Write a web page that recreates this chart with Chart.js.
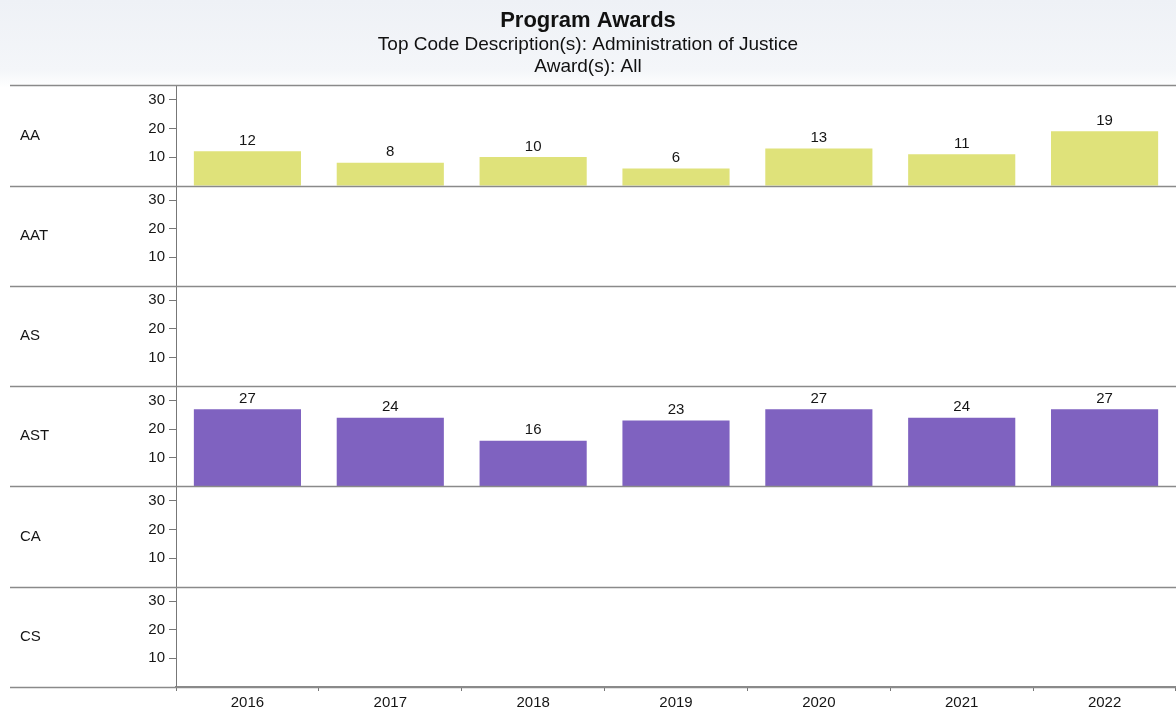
<!DOCTYPE html>
<html>
<head>
<meta charset="utf-8">
<title>Program Awards</title>
<script src="https://cdn.jsdelivr.net/npm/chart.js@4.4.1/dist/chart.umd.min.js"></script>
<style>
  html, body { margin: 0; padding: 0; }
  body {
    width: 1176px; height: 711px;
    background: linear-gradient(#eef1f6 0px, #f4f6f9 70px, #ffffff 88px);
    font-family: "Liberation Sans", Arial, sans-serif;
  }
  #wrap { position: relative; width: 1176px; height: 711px; }
</style>
</head>
<body>
<div id="wrap"><canvas id="awardsChart"></canvas></div>
<script>
// Años y tipos de título
const years = ['2016', '2017', '2018', '2019', '2020', '2021', '2022'];
const rowLabels = ['AA', 'AAT', 'AS', 'AST', 'CA', 'CS'];
const yTicks = [10, 20, 30];

// Títulos otorgados por año (filas vacías = sin datos)
const awardsAA = [12, 8, 10, 6, 13, 11, 19];
const awardsAAT = [null, null, null, null, null, null, null];
const awardsAS = [null, null, null, null, null, null, null];
const awardsAST = [27, 24, 16, 23, 27, 24, 27];
const awardsCA = [null, null, null, null, null, null, null];
const awardsCS = [null, null, null, null, null, null, null];

const rowData = [awardsAA, awardsAAT, awardsAS, awardsAST, awardsCA, awardsCS];
const rowColors = ['#dfe27a', '#dfe27a', '#dfe27a', '#7f62c0', '#7f62c0', '#7f62c0'];

const FONT = '"Liberation Sans", Arial, sans-serif';
const TEXT = '#151515';
const AXIS_LEFT = 176;

// Dibuja etiquetas de fila, separadores y valores sobre las barras
const trellisDecor = {
  id: 'trellisDecor',
  afterDraw(chart) {
    const ctx = chart.ctx;
    const area = chart.chartArea;
    ctx.save();

    ctx.strokeStyle = '#8a8a8a';
    ctx.lineWidth = 1.5;
    rowLabels.forEach((name, i) => {
      const s = chart.scales['y' + i];
      ctx.beginPath();
      ctx.moveTo(10, Math.round(s.bottom) + 0.5);
      ctx.lineTo(area.right, Math.round(s.bottom) + 0.5);
      if (i === 0) {
        ctx.moveTo(10, Math.round(s.top) + 0.5);
        ctx.lineTo(area.right, Math.round(s.top) + 0.5);
      }
      ctx.stroke();

      ctx.fillStyle = TEXT;
      ctx.font = '15px ' + FONT;
      ctx.textAlign = 'left';
      ctx.textBaseline = 'middle';
      ctx.fillText(name, 20, (s.top + s.bottom) / 2);
    });

    ctx.fillStyle = TEXT;
    ctx.font = '15px ' + FONT;
    ctx.textAlign = 'center';
    ctx.textBaseline = 'bottom';
    chart.data.datasets.forEach((ds, i) => {
      const meta = chart.getDatasetMeta(i);
      meta.data.forEach((bar, j) => {
        const v = ds.data[j];
        if (v == null) return;
        ctx.fillText(String(v), bar.x, bar.y - 3);
      });
    });
    ctx.restore();
  }
};

const scales = {
  x: {
    type: 'category',
    offset: true,
    border: { display: true, color: '#8a8a8a', width: 1.5 },
    grid: { display: true, offset: true, drawOnChartArea: false, tickLength: 4, color: '#777' },
    ticks: { color: TEXT, font: { family: FONT, size: 15 }, padding: 3 },
    afterFit(scale) { scale.height = 24; }
  }
};

// Los ejes apilados se colocan de abajo hacia arriba, así que se definen al revés
for (let i = rowLabels.length - 1; i >= 0; i--) {
  scales['y' + i] = {
    type: 'linear',
    position: 'left',
    stack: 'rows',
    stackWeight: 1,
    min: 0,
    max: 35,
    border: { display: true, color: '#777', width: 1 },
    grid: { drawOnChartArea: false, tickLength: 7, color: '#777' },
    ticks: { color: TEXT, font: { family: FONT, size: 15 }, padding: 4 },
    afterBuildTicks(scale) { scale.ticks = yTicks.map(v => ({ value: v })); },
    afterFit(scale) { scale.width = AXIS_LEFT; }
  };
}

new Chart(document.getElementById('awardsChart'), {
  type: 'bar',
  data: {
    labels: years,
    datasets: rowLabels.map((name, i) => ({
      label: name,
      data: rowData[i],
      yAxisID: 'y' + i,
      backgroundColor: rowColors[i],
      borderWidth: 0,
      grouped: false,
      categoryPercentage: 1,
      barPercentage: 0.75
    }))
  },
  options: {
    responsive: true,
    maintainAspectRatio: false,
    animation: false,
    layout: { padding: { left: 0, right: 0, top: 0, bottom: 0 } },
    plugins: {
      legend: { display: false },
      tooltip: { enabled: false },
      title: {
        display: true,
        text: 'Program Awards',
        color: '#111',
        font: { family: FONT, size: 22, weight: 'bold', lineHeight: 0.8 },
        padding: { top: 12, bottom: 0 }
      },
      subtitle: {
        display: true,
        text: ['Top Code Description(s): Administration of Justice', 'Award(s): All'],
        color: '#111',
        font: { family: FONT, size: 19, lineHeight: 1.18 },
        padding: { top: 4, bottom: 7 }
      }
    },
    scales: scales
  },
  plugins: [trellisDecor]
});
</script>
</body>
</html>
